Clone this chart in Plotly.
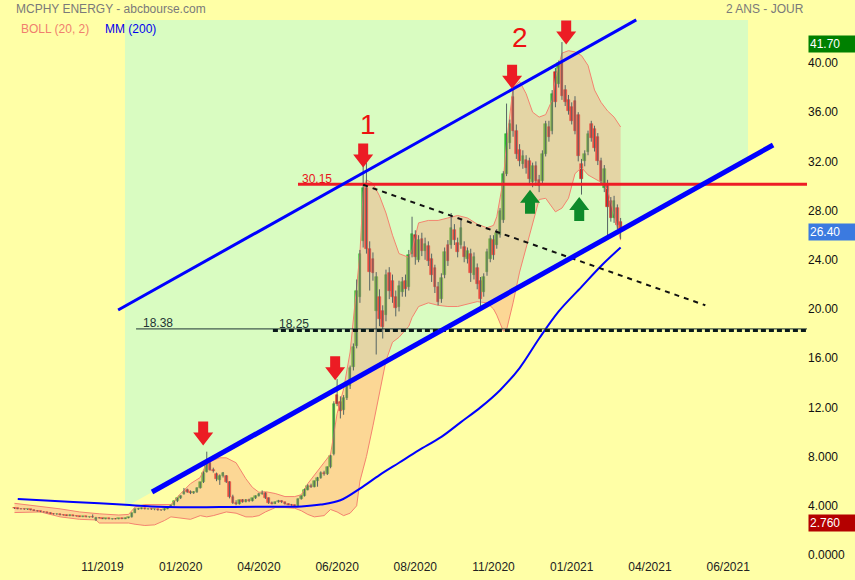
import plotly.graph_objects as go

# ---------------- data ----------------
opens = [3.82, 3.80, 3.76, 3.74, 3.70, 3.72, 3.65, 3.60, 3.56, 3.50,
         3.46, 3.42, 3.36, 3.32, 3.34, 3.26, 3.24, 3.20, 3.22, 3.17,
         3.15, 3.12, 3.14, 3.08, 3.10, 2.82, 3.04, 2.98, 2.95, 2.97,
         2.93, 2.96, 2.94, 2.98, 2.96, 3.02, 3.06, 3.42, 3.72, 3.78,
         3.80, 3.74, 3.76, 3.70, 3.72, 3.64, 3.62, 3.76, 3.90, 4.05,
         4.35, 4.60, 4.95, 5.30, 5.15, 5.02, 5.10, 5.45, 5.90, 6.75,
         7.45, 6.95, 6.60, 6.10, 6.45, 6.40, 5.90, 4.75, 4.25, 4.15,
         4.45, 4.30, 4.50, 4.38, 4.60, 4.80, 4.98, 5.05, 4.60, 4.22,
         4.18, 4.30, 4.40, 4.28, 4.14, 4.10, 4.04, 4.00, 4.55, 4.80,
         5.32, 5.65, 5.55, 5.98, 6.25, 6.70, 6.55, 7.12, 8.20, 13.00,
         12.40, 11.80, 12.80, 13.70, 15.30, 17.00, 21.00, 25.50, 29.80, 24.90,
         24.10, 19.80, 21.00, 19.80, 19.50, 22.90, 22.30, 21.00, 20.20, 21.40,
         22.30, 21.80, 24.50, 26.00, 24.00, 25.70, 24.70, 25.10, 24.10, 23.30,
         21.80, 20.80, 22.80, 25.20, 25.20, 26.40, 25.40, 25.20, 25.00, 24.10,
         24.50, 22.80, 23.30, 22.30, 21.40, 23.00, 24.10, 25.60, 25.20, 26.00,
         27.20, 31.00, 33.50, 37.20, 34.50, 32.90, 31.80, 32.10, 32.00, 30.30,
         31.60, 30.50, 30.40, 32.60, 34.80, 34.50, 39.30, 38.30, 40.00, 37.80,
         37.00, 36.40, 36.90, 35.80, 31.80, 32.00, 32.80, 35.00, 34.60, 34.00,
         32.00, 29.80, 30.20, 28.80, 27.40, 28.20, 27.10]
highs = [3.86, 3.84, 3.80, 3.78, 3.76, 3.74, 3.70, 3.64, 3.60, 3.55,
         3.50, 3.47, 3.40, 3.38, 3.36, 3.30, 3.28, 3.30, 3.25, 3.20,
         3.18, 3.16, 3.16, 3.12, 3.30, 3.10, 3.08, 3.02, 3.00, 3.00,
         2.98, 3.00, 3.00, 3.02, 3.04, 3.10, 3.45, 3.78, 3.84, 3.86,
         3.84, 3.80, 3.80, 3.76, 3.74, 3.70, 3.80, 3.95, 4.10, 4.40,
         4.65, 4.85, 5.45, 5.40, 5.25, 5.20, 5.50, 5.95, 6.80, 8.40,
         7.55, 7.10, 6.70, 6.55, 6.75, 6.50, 6.00, 4.90, 4.45, 4.50,
         4.55, 4.55, 4.58, 4.65, 4.85, 5.05, 5.25, 5.10, 4.68, 4.35,
         4.35, 4.48, 4.45, 4.32, 4.20, 4.15, 4.10, 4.60, 4.85, 5.40,
         5.75, 5.80, 6.05, 6.35, 6.80, 6.85, 7.20, 8.15, 12.50, 14.30,
         12.90, 13.00, 13.90, 15.40, 17.20, 22.40, 24.80, 31.70, 31.90, 25.50,
         24.60, 23.00, 21.60, 20.30, 23.20, 23.40, 22.80, 21.50, 22.30, 22.60,
         22.80, 24.80, 27.50, 26.40, 26.00, 26.20, 25.80, 25.50, 24.50, 23.60,
         22.20, 22.90, 25.00, 25.60, 27.80, 26.90, 25.80, 27.40, 25.50, 25.00,
         24.90, 24.60, 23.70, 22.60, 22.90, 24.90, 26.00, 26.00, 26.50, 28.20,
         31.20, 36.70, 35.40, 38.10, 35.00, 33.40, 32.90, 32.50, 32.30, 31.90,
         32.00, 30.90, 32.90, 35.30, 35.30, 37.80, 39.60, 40.20, 41.70, 38.20,
         37.40, 36.80, 37.30, 36.00, 32.20, 32.90, 34.50, 35.30, 34.90, 34.30,
         32.30, 31.70, 30.50, 29.10, 29.20, 28.50, 27.40]
lows = [3.74, 3.72, 3.70, 3.66, 3.66, 3.62, 3.58, 3.52, 3.48, 3.44,
        3.38, 3.34, 3.28, 3.26, 3.22, 3.20, 3.18, 3.16, 3.14, 3.12,
        3.10, 3.08, 3.06, 3.04, 3.02, 2.76, 2.96, 2.92, 2.90, 2.90,
        2.88, 2.90, 2.90, 2.92, 2.92, 2.98, 3.04, 3.40, 3.66, 3.72,
        3.70, 3.68, 3.66, 3.64, 3.60, 3.58, 3.60, 3.72, 3.86, 4.00,
        4.30, 4.55, 4.90, 5.05, 4.95, 4.96, 5.05, 5.40, 5.85, 6.70,
        6.85, 6.70, 6.00, 5.70, 6.30, 5.85, 4.60, 4.15, 4.05, 4.10,
        4.25, 4.28, 4.30, 4.35, 4.55, 4.75, 4.90, 4.55, 4.15, 4.12,
        4.15, 4.25, 4.22, 4.10, 4.05, 4.00, 3.95, 3.98, 4.50, 4.75,
        5.25, 5.45, 5.50, 5.55, 6.20, 6.45, 6.50, 7.05, 8.10, 12.10,
        11.10, 11.40, 12.60, 13.50, 15.00, 16.80, 20.50, 25.00, 24.50, 21.50,
        22.30, 16.30, 18.60, 17.60, 19.00, 20.80, 20.50, 19.40, 19.80, 21.00,
        21.00, 21.50, 24.20, 23.60, 23.80, 24.30, 24.00, 23.50, 22.20, 21.30,
        20.30, 20.50, 22.50, 23.50, 24.90, 25.20, 24.20, 24.90, 23.80, 23.70,
        22.20, 22.40, 21.60, 20.00, 21.00, 22.70, 23.80, 24.00, 24.90, 25.80,
        27.00, 30.80, 33.00, 34.00, 32.20, 31.60, 31.40, 31.00, 30.20, 29.90,
        30.00, 29.50, 30.20, 32.40, 33.60, 34.20, 36.40, 38.00, 37.00, 36.50,
        35.80, 35.00, 34.20, 32.00, 29.30, 31.60, 32.50, 33.60, 32.80, 31.70,
        30.10, 29.50, 26.00, 27.10, 27.00, 26.50, 25.70]
closes = [3.80, 3.76, 3.74, 3.70, 3.72, 3.65, 3.60, 3.56, 3.50, 3.46,
          3.42, 3.36, 3.32, 3.34, 3.26, 3.24, 3.20, 3.22, 3.17, 3.15,
          3.12, 3.14, 3.08, 3.10, 3.06, 3.04, 2.98, 2.95, 2.97, 2.93,
          2.96, 2.94, 2.98, 2.96, 3.02, 3.06, 3.40, 3.72, 3.78, 3.80,
          3.74, 3.76, 3.70, 3.72, 3.64, 3.62, 3.76, 3.90, 4.05, 4.35,
          4.60, 4.78, 5.10, 5.12, 5.02, 5.10, 5.45, 5.90, 6.70, 7.45,
          6.95, 6.80, 6.15, 6.45, 6.65, 5.95, 4.75, 4.25, 4.15, 4.45,
          4.30, 4.50, 4.38, 4.60, 4.80, 4.95, 5.08, 4.62, 4.22, 4.18,
          4.30, 4.40, 4.28, 4.14, 4.10, 4.04, 4.00, 4.55, 4.78, 5.32,
          5.65, 5.55, 5.98, 6.25, 6.70, 6.55, 7.12, 8.05, 12.30, 12.30,
          11.70, 12.80, 13.70, 15.20, 16.90, 21.50, 24.50, 29.80, 24.90, 23.00,
          22.90, 22.60, 19.20, 18.50, 22.80, 21.50, 21.00, 20.10, 21.90, 22.20,
          21.60, 24.40, 26.10, 24.20, 25.60, 24.70, 25.30, 23.90, 22.80, 21.80,
          20.60, 22.50, 24.60, 23.90, 26.60, 25.60, 24.60, 26.60, 24.20, 24.70,
          22.90, 24.20, 22.00, 20.80, 22.60, 24.60, 25.70, 24.40, 26.20, 28.00,
          31.00, 34.20, 35.00, 34.50, 32.60, 32.00, 32.40, 31.50, 30.60, 31.60,
          30.40, 30.00, 32.60, 35.00, 34.00, 37.50, 36.80, 40.00, 37.30, 36.80,
          36.10, 35.30, 34.50, 32.40, 30.60, 32.60, 34.20, 33.90, 33.10, 32.00,
          30.40, 31.40, 28.30, 27.40, 28.80, 26.80, 26.40]

# Bollinger (20, 2) envelope, read at sample bar positions
band_x = [0, 8, 14, 20, 25, 26, 29, 32, 35, 37, 40, 43, 46, 48, 51, 54, 57, 59, 61, 63,
          65, 68, 71, 73, 75, 77, 80, 83, 86, 88, 90, 92, 95, 97, 99, 101, 103, 105, 106, 107,
          108, 110, 112, 114, 116, 118, 121, 122, 124, 127, 130, 133, 136, 139, 142, 145, 147, 148, 150, 151,
          153, 155, 157, 159, 161, 163, 165, 166, 168, 170, 172, 174, 176, 178, 180, 182, 184, 186]
band_upper = [4.2, 3.95, 3.75, 3.5, 3.35, 3.35, 3.3, 3.25, 3.3, 3.9, 4.1, 4.1, 4.05, 4.1, 5.0, 5.8, 6.3, 7.5, 7.7, 7.9,
              7.9, 7.5, 6.2, 5.5, 5.1, 5.15, 5.0, 4.75, 4.75, 4.9, 5.8, 6.5, 7.5, 8.2, 11.5, 13.5, 16.5, 21.5, 24.5, 29.5,
              30.5, 30.2, 29.2, 27.8, 26.0, 24.5, 24.2, 24.8, 27.0, 27.2, 27.2, 27.4, 27.6, 27.4, 26.9, 26.6, 26.8, 27.5, 30.5, 33.5,
              38.0, 38.5, 37.5, 36.0, 35.6, 35.8, 37.0, 38.8, 40.8, 41.0, 40.9, 40.6, 39.8, 37.8, 36.8, 36.1, 35.6, 34.8]
band_lower = [3.45, 3.5, 3.1, 2.9, 2.85, 2.6, 2.6, 2.6, 2.6, 2.5, 2.4, 2.45, 2.8, 3.1, 3.0, 2.9, 3.2, 3.1, 3.2, 3.35,
              3.5, 3.4, 3.1, 3.1, 3.2, 3.5, 3.85, 3.85, 3.8, 3.6, 3.3, 3.1, 3.2, 3.7, 3.5, 3.2, 3.4, 4.0, 6.0, 7.0,
              8.0, 10.5, 13.2, 15.8, 17.3, 17.7, 18.6, 19.3, 20.2, 20.5, 20.3, 20.2, 20.2, 20.4, 20.6, 20.5, 20.0, 19.5, 18.2, 18.3,
              20.5, 23.0, 25.0, 27.0, 28.9, 29.0, 28.3, 27.9, 28.2, 29.0, 31.0, 31.5, 30.9, 30.6, 30.3, 29.7, 27.7, 25.6]

# MM (200)
mm200_x = [1, 11, 26, 34, 42, 51, 63, 75, 88, 94, 100, 106, 112, 118, 124, 131, 137, 143, 149, 155,
           161, 167, 174, 180, 186]
mm200_y = [4.55, 4.42, 4.2, 4.08, 3.95, 3.88, 3.9, 3.92, 3.95, 4.1, 4.45, 5.4, 6.5, 7.5, 8.5, 9.6, 10.8, 12.0, 13.4, 15.2,
           17.6, 19.8, 21.8, 23.5, 25.0]

x_tick_pos = [27, 51, 75, 99, 123, 147, 171, 195, 219]
x_tick_labels = ["11/2019", "01/2020", "04/2020", "06/2020", "08/2020", "11/2020", "01/2021", "04/2021", "06/2021"]
y_tick_vals = [0, 4, 8, 12, 16, 20, 24, 28, 32, 36, 40]
y_tick_labels = ["0.0000", "4.000", "8.000", "12.00", "16.00", "20.00", "24.00", "28.00", "32.00", "36.00", "40.00"]

level_resist = 30.15
level_a = 18.38
level_b = 18.25

# drawn trend lines (bar index, price)
chan_up = [(31.8, 19.92), (190.8, 43.50)]
chan_low = [(42.2, 5.12), (232.8, 33.33)]
down_trend = [(107.0, 30.1), (212.0, 20.3)]

red_arrows = [(57.9, 8.9), (98.4, 14.2), (107.0, 31.5), (152.7, 37.9), (169.3, 41.5)]
green_arrows = [(158.2, 29.7), (173.3, 29.1)]

# ---------------- geometry ----------------
W, H = 855, 580
ML, MR, MT, MB = 0, 48, 0, 22
PW, PH = W - ML - MR, H - MT - MB
X_RANGE = [-4.45, 243.2]
Y_RANGE = [-0.244, 45.12]
UX = PW / (X_RANGE[1] - X_RANGE[0])   # px per bar unit
UY = PH / (Y_RANGE[1] - Y_RANGE[0])   # px per price unit

BG = "#ffffa6"
GREEN_ZONE = "#d9fcc1"
BAND_LINE = "#f4836f"
BAND_FILL = "rgba(247,150,120,0.38)"
UP_COL = "#2fbf2f"
DN_COL = "#e0201e"
WICK = "#566464"
FONT = "Liberation Sans, Arial, sans-serif"


def px(x):
    return x / PW


def py(y):
    return 1 - y / PH


idx = list(range(len(closes)))

fig = go.Figure()

# Bollinger envelope
fig.add_trace(go.Scatter(x=band_x, y=band_upper, mode="lines",
                         line=dict(color=BAND_LINE, width=1), hoverinfo="skip"))
fig.add_trace(go.Scatter(x=band_x, y=band_lower, mode="lines", fill="tonexty",
                         fillcolor=BAND_FILL, line=dict(color=BAND_LINE, width=1), hoverinfo="skip"))

# wicks
wx, wy = [], []
for i, (h, l) in enumerate(zip(highs, lows)):
    wx += [i, i, None]
    wy += [l, h, None]
fig.add_trace(go.Scatter(x=wx, y=wy, mode="lines", line=dict(color=WICK, width=1), hoverinfo="skip"))

# bodies
body_base = [min(o, c) for o, c in zip(opens, closes)]
body_h = [abs(c - o) for o, c in zip(opens, closes)]
body_col = [UP_COL if c >= o else DN_COL for o, c in zip(opens, closes)]
fig.add_trace(go.Bar(x=idx, y=body_h, base=body_base, width=0.8,
                     marker=dict(color=body_col, line=dict(color=body_col, width=0.6))))

# MM200
fig.add_trace(go.Scatter(x=mm200_x, y=mm200_y, mode="lines", line=dict(color="#0000ff", width=2),
                         line_shape="spline", hoverinfo="skip"))

shapes = []
# green channel zone (bounded below by lower channel line)
slope = (chan_low[1][1] - chan_low[0][1]) / (chan_low[1][0] - chan_low[0][0])
zx0, zx1, ztop = 33.9, 225.1, 43.5
zy0 = chan_low[0][1] + slope * (zx0 - chan_low[0][0])
zy1 = chan_low[0][1] + slope * (zx1 - chan_low[0][0])
shapes.append(dict(type="path", xref="x", yref="y", layer="below",
                   path=f"M {zx0} {ztop} L {zx1} {ztop} L {zx1} {zy1} L {zx0} {zy0} Z",
                   fillcolor=GREEN_ZONE, line=dict(width=0)))

# horizontal levels
shapes.append(dict(type="line", xref="x", yref="y", x0=37.3, x1=X_RANGE[1], y0=level_a, y1=level_a,
                   line=dict(color="#1e3434", width=1), layer="above"))
shapes.append(dict(type="line", xref="x", yref="y", x0=79.3, x1=X_RANGE[1], y0=level_b, y1=level_b,
                   line=dict(color="#0a1a1a", width=3, dash="5px,3px"), layer="above"))
shapes.append(dict(type="line", xref="x", yref="y", x0=87.0, x1=X_RANGE[1], y0=level_resist, y1=level_resist,
                   line=dict(color="#ee1c25", width=3), layer="above"))
# dashed downtrend
shapes.append(dict(type="line", xref="x", yref="y", x0=down_trend[0][0], y0=down_trend[0][1],
                   x1=down_trend[1][0], y1=down_trend[1][1],
                   line=dict(color="#111111", width=2, dash="5px,5px"), layer="above"))
# channel
shapes.append(dict(type="line", xref="x", yref="y", x0=chan_up[0][0], y0=chan_up[0][1],
                   x1=chan_up[1][0], y1=chan_up[1][1], line=dict(color="#0000ff", width=3), layer="above"))
shapes.append(dict(type="line", xref="x", yref="y", x0=chan_low[0][0], y0=chan_low[0][1],
                   x1=chan_low[1][0], y1=chan_low[1][1], line=dict(color="#0000ff", width=5), layer="above"))

# block arrows (sizes in pixels)
HW, HH, SW, SH = 20 / UX, 13 / UY, 10 / UX, 11 / UY


def arrow(x0, y0, down, color):
    s = -1 if down else 1  # head points toward tip; body extends away
    yb = y0 - s * HH
    ye = yb - s * SH
    pts = [(x0, y0), (x0 - HW / 2, yb), (x0 - SW / 2, yb), (x0 - SW / 2, ye),
           (x0 + SW / 2, ye), (x0 + SW / 2, yb), (x0 + HW / 2, yb)]
    p = "M " + " L ".join(f"{a:.3f} {b:.3f}" for a, b in pts) + " Z"
    return dict(type="path", xref="x", yref="y", path=p, fillcolor=color, line=dict(width=0), layer="above")


for (ax, ay) in red_arrows:
    shapes.append(arrow(ax, ay, True, "#ec1c24"))
for (ax, ay) in green_arrows:
    shapes.append(arrow(ax, ay, False, "#0d8a2a"))

ann = []
ann.append(dict(x=px(14), y=py(9), xref="paper", yref="paper", text="MCPHY ENERGY - abcbourse.com",
                showarrow=False, xanchor="left", yanchor="middle", font=dict(size=12, color="#7a7a7a")))
ann.append(dict(x=px(806), y=py(9), xref="paper", yref="paper", text="2 ANS - JOUR",
                showarrow=False, xanchor="right", yanchor="middle", font=dict(size=12, color="#7a7a7a")))
ann.append(dict(x=px(19), y=py(29), xref="paper", yref="paper", text="BOLL (20, 2)",
                showarrow=False, xanchor="left", yanchor="middle", font=dict(size=12, color="#f07f6e")))
ann.append(dict(x=px(103), y=py(29), xref="paper", yref="paper", text="MM (200)",
                showarrow=False, xanchor="left", yanchor="middle", font=dict(size=12, color="#0000ee")))
ann.append(dict(x=px(368), y=py(124), xref="paper", yref="paper", text="1",
                showarrow=False, xanchor="center", yanchor="middle", font=dict(size=28, color="#ee1111")))
ann.append(dict(x=px(520), y=py(38), xref="paper", yref="paper", text="2",
                showarrow=False, xanchor="center", yanchor="middle", font=dict(size=28, color="#ee1111")))
ann.append(dict(x=px(300), y=py(179), xref="paper", yref="paper", text=f"{level_resist:.2f}",
                showarrow=False, xanchor="left", yanchor="middle", font=dict(size=12, color="#e8141c")))
ann.append(dict(x=px(141), y=py(323), xref="paper", yref="paper", text=f"{level_a:.2f}",
                showarrow=False, xanchor="left", yanchor="middle", font=dict(size=12, color="#1e3434")))
ann.append(dict(x=px(277), y=py(324), xref="paper", yref="paper", text=f"{level_b:.2f}",
                showarrow=False, xanchor="left", yanchor="middle", font=dict(size=12, color="#1e3434")))

# value tags on the price scale
for val, txt, col in [(max(highs), f"{max(highs):.2f}", "#008000"),
                      (closes[-1], f"{closes[-1]:.2f}", "#3b7ae0"),
                      (min(lows), f"{min(lows):.3f}", "#b40000")]:
    ann.append(dict(x=1, y=val, xref="paper", yref="y", text=txt, showarrow=False,
                    xanchor="left", yanchor="middle", xshift=1, yshift=-2, width=44, height=14,
                    align="left", bgcolor=col, borderpad=1, font=dict(size=12, color="white")))

fig.update_layout(
    width=W, height=H, margin=dict(l=ML, r=MR, t=MT, b=MB),
    paper_bgcolor=BG, plot_bgcolor=BG, showlegend=False,
    font=dict(family=FONT, size=12, color="#111111"),
    bargap=0, shapes=shapes, annotations=ann,
    xaxis=dict(range=X_RANGE, tickvals=x_tick_pos, ticktext=x_tick_labels, showgrid=False,
               zeroline=False, showline=False, ticks="", tickfont=dict(size=12, color="#222222")),
    yaxis=dict(range=Y_RANGE, side="right", tickvals=y_tick_vals, ticktext=y_tick_labels,
               showgrid=False, zeroline=False, showline=False, ticks="",
               tickfont=dict(size=12, color="#111111")),
)

fig.write_html("out.html", config={"displayModeBar": False},
               post_script="document.body.style.margin='0';document.body.style.padding='0';"
                           "document.body.style.background='" + BG + "';"
                           "document.documentElement.style.overflow='hidden';")
